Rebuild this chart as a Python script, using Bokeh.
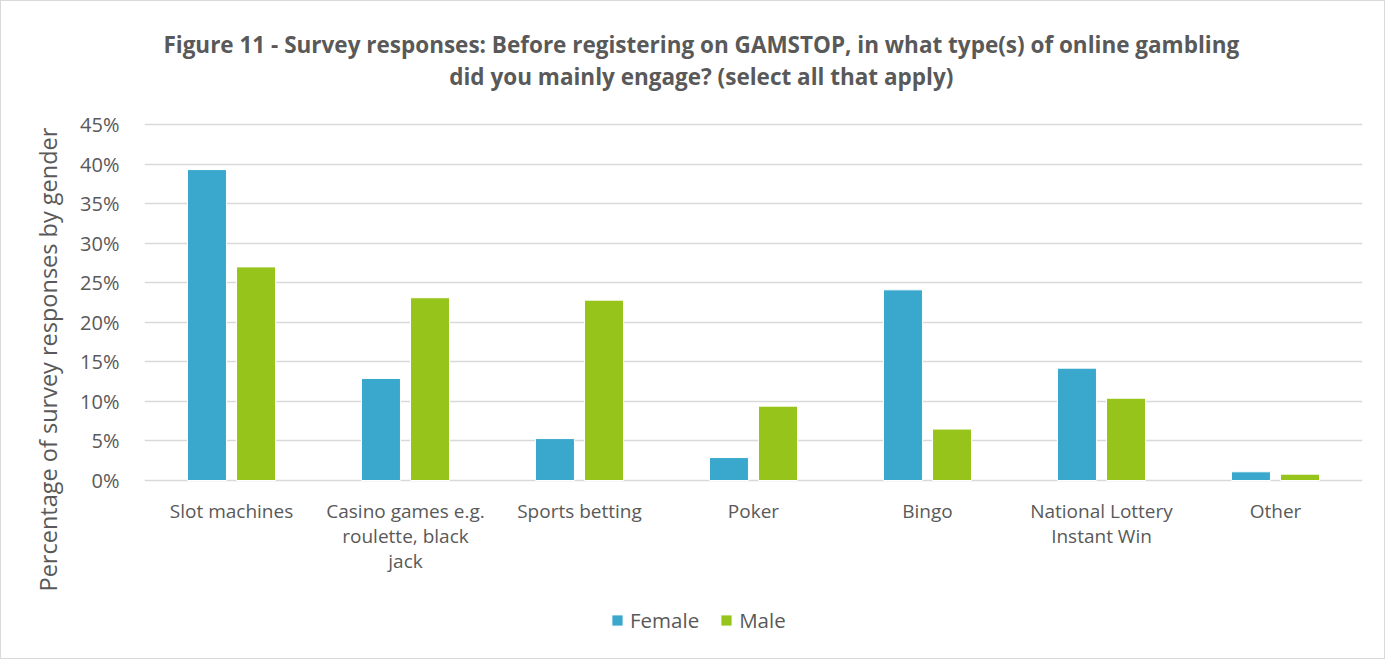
from bokeh.plotting import figure
from bokeh.models import (ColumnDataSource, FactorRange, Legend, LegendItem, NumeralTickFormatter,
                          FixedTicker, Range1d, Title, Label)
from bokeh.core.properties import value
from bokeh.transform import dodge
from bokeh.embed import file_html
from bokeh.resources import INLINE

categories = ["Slot machines", "Casino games e.g.\nroulette, black\njack", "Sports betting",
              "Poker", "Bingo", "National Lottery\nInstant Win", "Other"]
female = [0.393, 0.129, 0.053, 0.029, 0.241, 0.142, 0.011]
male = [0.270, 0.231, 0.228, 0.094, 0.065, 0.104, 0.008]
y_ticks = [0, 0.05, 0.10, 0.15, 0.20, 0.25, 0.30, 0.35, 0.40, 0.45]
title_lines = ["Figure 11 - Survey responses: Before registering on GAMSTOP, in what type(s) of online gambling",
               "did you mainly engage? (select all that apply)"]
y_label = "Percentage of survey responses by gender"

FEMALE_COLOR = "#3AA7CD"
MALE_COLOR = "#96C41A"
TEXT = "#595959"
FONT = "Open Sans"

# layout constants (pixels on the canvas)
FRAME_TOP, FRAME_BOTTOM = 10, 650
ZERO_PX, SCALE_PX = 479, 356          # pixel row of 0 %, pixels spanned by 0..45 %
Y_MAX = 0.45
def y_of(px):
    return (ZERO_PX - px) * Y_MAX / SCALE_PX

src = ColumnDataSource(dict(cat=categories, female=female, male=male))

p = figure(x_range=FactorRange(*categories), y_range=Range1d(y_of(FRAME_BOTTOM), y_of(FRAME_TOP)),
           frame_width=1218, frame_height=FRAME_BOTTOM - FRAME_TOP, output_backend="svg",
           toolbar_location=None, x_axis_location=None,
           min_border_left=143, min_border_right=22, min_border_top=FRAME_TOP, min_border_bottom=7)
p.title.visible = False

r_f = p.vbar(x=dodge("cat", -0.141, range=p.x_range), top="female", width=0.224, source=src,
             fill_color=FEMALE_COLOR, line_color="white", line_width=1)
r_m = p.vbar(x=dodge("cat", 0.141, range=p.x_range), top="male", width=0.224, source=src,
             fill_color=MALE_COLOR, line_color="white", line_width=1)

# category labels under the bars
p.text(x="cat", y=y_of(496), text="cat", source=src, text_align="center", text_baseline="top",
       text_font=value(FONT), text_font_size="19px", text_color=TEXT, text_line_height=0.98)

# chart title (two centred lines)
mid_x = len(categories) / 2 - 0.30
for line, px in zip(title_lines, (43, 75)):
    p.add_layout(Label(x=mid_x, y=y_of(px), text=line, text_align="center", text_baseline="middle",
                       text_font=FONT, text_font_size="22.5px", text_font_style="bold",
                       text_color=TEXT))

p.yaxis.ticker = FixedTicker(ticks=y_ticks)
p.yaxis.formatter = NumeralTickFormatter(format="0%")
p.yaxis.axis_line_color = None
p.yaxis.major_tick_line_color = None
p.yaxis.minor_tick_line_color = None
p.yaxis.major_label_text_font = FONT
p.yaxis.major_label_text_color = TEXT
p.yaxis.major_label_text_font_size = "20px"
p.yaxis.major_label_standoff = 19

ylab = Title(text=y_label, align="left", offset=FRAME_BOTTOM - 590, text_font=FONT,
             text_font_size="23.5px", text_font_style="normal", text_color=TEXT, standoff=27)
p.add_layout(ylab, "left")

p.xgrid.grid_line_color = None
p.ygrid.grid_line_color = "#D9D9D9"
p.ygrid.grid_line_width = 1.5
p.outline_line_color = None
p.x_range.range_padding = 0
p.x_range.group_padding = 0
p.x_range.factor_padding = 0

legend = Legend(items=[LegendItem(label="Female", renderers=[r_f]),
                       LegendItem(label="Male", renderers=[r_m])],
                orientation="horizontal", location=(466, 17),
                label_text_font=FONT, label_text_font_size="20.5px", label_text_color=TEXT,
                glyph_width=14, glyph_height=14, spacing=20, label_standoff=6,
                border_line_color=None, background_fill_alpha=0, padding=4, margin=0)
p.add_layout(legend, "center")

p.styles = {"border": "1px solid #D9D9D9"}

open("out.html", "w").write(file_html(p, INLINE))
